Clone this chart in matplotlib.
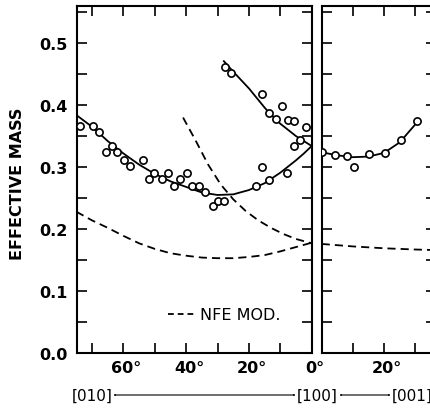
import matplotlib
matplotlib.use("Agg")
import matplotlib.pyplot as plt
import matplotlib.transforms as mtransforms
import numpy as np

plt.rcParams['font.family'] = ['DejaVu Sans']

# ---- data: left panel ([100] -> [010]), angle in degrees from [100]
left_pts_low_ang = [73.9, 69.8, 67.9, 65.6, 63.8, 62.0, 59.9, 58.0, 53.9, 51.9, 50.2, 47.8,
                    45.9, 43.9, 42.0, 39.8, 38.0, 35.8, 34.0, 31.3, 29.8, 27.9,
                    17.9, 15.7, 13.6, 7.8, 5.7, 3.8]
left_pts_low_val = [0.367, 0.366, 0.356, 0.325, 0.334, 0.324, 0.311, 0.302, 0.311, 0.281, 0.290, 0.281,
                    0.290, 0.270, 0.281, 0.290, 0.269, 0.269, 0.260, 0.238, 0.246, 0.246,
                    0.269, 0.300, 0.279, 0.290, 0.334, 0.344]
left_pts_up_ang = [27.7, 25.7, 15.7, 13.6, 11.5, 9.6, 7.6, 5.7, 1.8]
left_pts_up_val = [0.462, 0.452, 0.418, 0.388, 0.377, 0.399, 0.376, 0.375, 0.365]

left_fit_low_ang = [75, 70, 65, 60, 55, 50, 45, 40, 35, 30, 25, 20, 15, 10, 5, 2.5, 0]
left_fit_low_val = [0.384, 0.365, 0.342, 0.322, 0.304, 0.289, 0.277, 0.268, 0.259, 0.255,
                    0.256, 0.263, 0.274, 0.291, 0.311, 0.322, 0.334]
left_fit_up_ang = [28, 25, 20, 15, 13.6, 10, 5, 0]
left_fit_up_val = [0.471, 0.454, 0.427, 0.396, 0.388, 0.370, 0.350, 0.334]

nfe_left_a_ang = [75, 70, 65, 60, 55, 50, 45, 40, 35, 30, 25, 20, 15, 10, 5, 0]
nfe_left_a_val = [0.228, 0.214, 0.202, 0.189, 0.177, 0.168, 0.161, 0.157, 0.154, 0.153,
                  0.153, 0.155, 0.158, 0.164, 0.171, 0.178]
nfe_left_b_ang = [41, 37, 33, 29, 25, 21, 17, 13, 9, 5, 0]
nfe_left_b_val = [0.380, 0.343, 0.304, 0.272, 0.248, 0.229, 0.214, 0.202, 0.192, 0.184, 0.177]

# ---- data: right panel ([100] -> [001])
right_pts_ang = [0.2, 4.3, 8.2, 10.2, 15.2, 20.4, 25.5, 30.5]
right_pts_val = [0.324, 0.320, 0.318, 0.300, 0.321, 0.323, 0.344, 0.374]
right_fit_ang = [0, 5, 10, 15, 20, 25, 30.5]
right_fit_val = [0.324, 0.319, 0.316, 0.317, 0.323, 0.340, 0.372]
nfe_right_ang = [0, 10, 20, 30, 37]
nfe_right_val = [0.176, 0.172, 0.169, 0.167, 0.166]

left_ticklabels = {60: "60°", 40: "40°", 20: "20°", 0: "0°"}
right_ticklabels = {20: "20°"}
ylabels = ["0.0", "0.1", "0.2", "0.3", "0.4", "0.5"]

W, H = 431, 414
fig = plt.figure(figsize=(W / 100, H / 100), dpi=100)

def fx(px):
    return px / W

def fy(py):
    return 1 - py / H

top, bot = 7, 354
ax1 = fig.add_axes([fx(77), fy(bot), fx(311.7 - 77), (bot - top) / H])
ax2 = fig.add_axes([fx(321.7), fy(bot), fx(436 - 321.7), (bot - top) / H])

lw_spine = 1.5
dash = (0, (4.5, 2.8))
mk = dict(marker='o', ms=5.2, mfc='white', mec='black', mew=1.2, ls='none', zorder=5)

for ax in (ax1, ax2):
    for s in ax.spines.values():
        s.set_linewidth(lw_spine)
    ax.set_ylim(0, 0.56)
    ax.set_yticks(np.arange(0, 0.51, 0.1))
    ax.set_yticks(np.arange(0.05, 0.56, 0.1), minor=True)
    ax.tick_params(which='both', direction='in', length=7, width=1.2,
                   top=True, bottom=True, left=True, right=True)

ax1.set_xlim(74.8, 0)
ax2.set_xlim(0, 36.6)

ax1.set_xticks(np.arange(0, 75, 10))
ax1.set_xticklabels([left_ticklabels.get(int(t), "") for t in np.arange(0, 75, 10)],
                    fontsize=11.5, fontweight='bold')
ax2.set_xticks(np.arange(0, 37, 10))
ax2.set_xticklabels([right_ticklabels.get(int(t), "") for t in np.arange(0, 37, 10)],
                    fontsize=11.5, fontweight='bold')
ax1.set_yticklabels(ylabels, fontsize=11.5, fontweight='bold')
ax2.set_yticklabels([])
ax1.tick_params(axis='y', pad=6.5)
ax1.tick_params(axis='x', pad=5)
ax2.tick_params(axis='x', pad=5)

# shift x tick labels so that the digits (not the degree sign) sit on the tick
offset = mtransforms.ScaledTranslation(3 / 100, 0, fig.dpi_scale_trans)
for ax in (ax1, ax2):
    for lab in ax.get_xticklabels():
        lab.set_transform(lab.get_transform() + offset)

# left panel
ax1.plot(left_fit_low_ang, left_fit_low_val, color='black', lw=1.3)
ax1.plot(left_fit_up_ang, left_fit_up_val, color='black', lw=1.3)
ax1.plot(nfe_left_a_ang, nfe_left_a_val, color='black', lw=1.3, ls=dash)
ax1.plot(nfe_left_b_ang, nfe_left_b_val, color='black', lw=1.3, ls=dash)
ax1.plot(left_pts_low_ang, left_pts_low_val, **mk)
ax1.plot(left_pts_up_ang, left_pts_up_val, **mk)

# right panel
ax2.plot(right_fit_ang, right_fit_val, color='black', lw=1.3)
ax2.plot(nfe_right_ang, nfe_right_val, color='black', lw=1.3, ls=dash)
ax2.plot(right_pts_ang, right_pts_val, **mk)

# legend
ax1.plot([0.388, 0.51], [0.112, 0.112], transform=ax1.transAxes, color='black',
         lw=1.3, ls=(0, (3.2, 2.2)))
ax1.text(0.524, 0.112, "NFE MOD.", transform=ax1.transAxes, fontsize=11.5,
         ha='left', va='center')

# y label
fig.text(fx(17.5), fy(184), "EFFECTIVE MASS", rotation=90, ha='center', va='center',
         fontsize=11.5, fontweight='bold')

# direction labels
yl = fy(396)
fig.text(fx(92.5), yl, "[010]", ha='center', va='center', fontsize=11)
fig.text(fx(317.5), yl, "[100]", ha='center', va='center', fontsize=11)
fig.text(fx(412), yl, "[001]", ha='center', va='center', fontsize=11)
arrow = dict(arrowstyle='<|-|>,head_length=0.5,head_width=0.18', lw=0.8, color='black',
             shrinkA=0, shrinkB=0)
fig.add_artist(matplotlib.patches.FancyArrowPatch((fx(113), yl), (fx(296), yl),
               transform=fig.transFigure, **arrow))
fig.add_artist(matplotlib.patches.FancyArrowPatch((fx(339), yl), (fx(391), yl),
               transform=fig.transFigure, **arrow))

fig.savefig("out.png", dpi=100)
